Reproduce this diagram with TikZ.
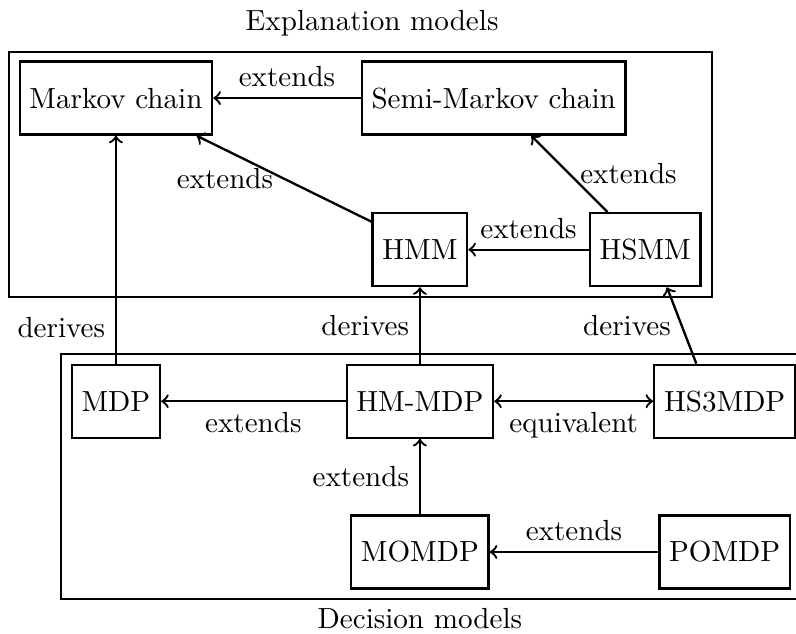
\documentclass[tikz,border=0pt]{standalone}
\usepackage{tikz}

\begin{document}
\begin{tikzpicture}[x=0.979cm, y=0.979cm, box/.style={draw, thick, minimum height=0.88cm}, rel/.style={thick}]
\useasboundingbox (0,0) rectangle (9.82,-7.81);

% explanation models
\node[] (expl) at (4.59, -0.29) {Explanation models};
\draw[thick] (0.11,-0.64) rectangle (8.78,-3.66);
\node[box] (markov) at (1.43, -1.21) {Markov chain};
\node[box] (semi) at (6.09, -1.21) {Semi-Markov chain};
\node[box] (hmm) at (5.18, -3.08) {HMM};
\node[box] (hsmm) at (7.96, -3.08) {HSMM};

% decision models
\draw[thick] (0.75,-4.37) rectangle (9.83,-7.39);
\node[] (dec) at (5.18, -7.63) {Decision models};
\node[box] (mdp) at (1.43, -4.95) {MDP};
\node[box] (hmmdp) at (5.18, -4.95) {HM-MDP};
\node[box] (hsmdp) at (8.94, -4.95) {HS3MDP};
\node[box] (momdp) at (5.18, -6.81) {MOMDP};
\node[box] (pomdp) at (8.94, -6.81) {POMDP};

\draw[rel, ->] (semi) -- node[above] {extends} (markov);
\draw[rel, ->] (hmm.150) -- node[left] {extends} (markov.-25);
\draw[rel, ->] (hsmm) -- node[above] {extends} (hmm);
\draw[rel, ->] (hsmm.135) -- node[right] {extends} (semi.-45);

\draw[rel, ->] (mdp) -- node[pos=0.16, left] {derives} (markov);
\draw[rel, ->] (hmmdp) -- node[left] {derives} (hmm);
\draw[rel, ->] (hsmdp.127) -- node[left] {derives} (hsmm.-60);

\draw[rel, ->] (hmmdp) -- node[below] {extends} (mdp);
\draw[rel, <->] (hmmdp) -- node[below] {equivalent} (hsmdp);
\draw[rel, ->] (momdp) -- node[left] {extends} (hmmdp);
\draw[rel, ->] (pomdp) -- node[above] {extends} (momdp);

\end{tikzpicture}
\end{document}
